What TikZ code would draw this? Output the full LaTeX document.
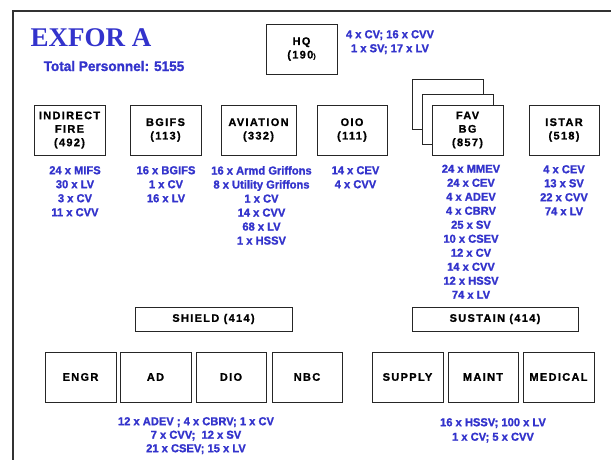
\documentclass[tikz,border=0pt]{standalone}
\usepackage{fontspec}
\setmainfont{Liberation Sans}
\newfontfamily\titlefont{Liberation Serif Bold}
\newfontfamily\kitfont{Liberation Sans Bold}[FakeBold=1.2, FakeStretch=0.97]
\newfontfamily\boxfont{Liberation Sans Bold}[LetterSpace=12, FakeBold=1]
\definecolor{unitblue}{RGB}{51,51,204}
\definecolor{framegray}{RGB}{50,50,50}
\tikzset{
  unitbox/.style={draw=black!85, line width=0.8pt, fill=white, inner sep=0pt,
    align=center, minimum width=71pt, minimum height=50pt,
    font=\boxfont\fontsize{11}{13.5}\selectfont},
  widebox/.style={unitbox, minimum height=24pt},
  kitlist/.style={text=unitblue, inner sep=0pt, anchor=north, align=center,
    font=\kitfont\fontsize{11.5}{14}\selectfont},
  kitlistb/.style={kitlist, font=\kitfont\fontsize{11.5}{13.5}\selectfont},
  kitlistc/.style={kitlist, font=\kitfont\fontsize{11.5}{14.5}\selectfont},
}
\begin{document}
\begin{tikzpicture}[x=1pt,y=-1pt]
\useasboundingbox[fill=white] (0,0) rectangle (611,460);
% frame
\draw[framegray, line width=2.5pt] (13,460) -- (13,11) -- (611,11);
% titles
\node[text=unitblue, inner sep=0pt, font=\titlefont\fontsize{27}{30}\selectfont] (title) at (91,38) {EXFOR A};
\node[text=unitblue, inner sep=0pt, font=\kitfont\fontsize{14}{16}\selectfont] (total) at (114,66) {Total Personnel: 5155};
% HQ
\node[unitbox] (hq) at (301.5,49) {HQ\\(190{\fontsize{7}{8}\selectfont)}};
\node[kitlist] (hqkit) at (390,30) {4 x CV; 16 x CVV\\1 x SV; 17 x LV};
% first row
\node[unitbox] (indf) at (69.5,130) {INDIRECT\\FIRE\\(492)};
\node[unitbox] (bgifs) at (165.5,130) {BGIFS\\(113)};
\node[unitbox, minimum width=75pt] (avn) at (258.5,130) {AVIATION\\(332)};
\node[unitbox, minimum width=70pt] (oio) at (352,130) {OIO\\(111)};
\node[unitbox] (favback) at (447.5,104) {};
\node[unitbox] (favmid) at (457.5,119) {};
\node[unitbox] (fav) at (467.5,130) {FAV\\BG\\(857)};
\node[unitbox, minimum width=70pt] (istar) at (564,130) {ISTAR\\(518)};
\node[kitlist] (indfkit) at (75,166) {24 x MIFS\\30 x LV\\3 x CV\\11 x CVV};
\node[kitlist] (bgifskit) at (166,166) {16 x BGIFS\\1 x CV\\16 x LV};
\node[kitlist] (avnkit) at (261.5,166) {16 x Armd Griffons\\8 x Utility Griffons\\1 x CV\\14 x CVV\\68 x LV\\1 x HSSV};
\node[kitlist] (oiokit) at (355.5,166) {14 x CEV\\4 x CVV};
\node[kitlist] (favkit) at (471,164.5) {24 x MMEV\\24 x CEV\\4 x ADEV\\4 x CBRV\\25 x SV\\10 x CSEV\\12 x CV\\14 x CVV\\12 x HSSV\\74 x LV};
\node[kitlist] (istarkit) at (564,165) {4 x CEV\\13 x SV\\22 x CVV\\74 x LV};
% shield / sustain
\node[widebox, minimum width=157pt] (shield) at (213.5,319) {SHIELD (414)};
\node[widebox, minimum width=166pt] (sustain) at (495,319) {SUSTAIN (414)};
\node[unitbox] (engr) at (80.5,377) {ENGR};
\node[unitbox] (ad) at (155.5,377) {AD};
\node[unitbox, minimum width=70pt] (dio) at (231,377) {DIO};
\node[unitbox, minimum width=70pt] (nbc) at (307,377) {NBC};
\node[unitbox] (supply) at (407.5,377) {SUPPLY};
\node[unitbox, minimum width=70pt] (maint) at (483,377) {MAINT};
\node[unitbox] (medical) at (558.5,377) {MEDICAL};
\node[kitlistb] (shieldkit) at (196,417) {12 x ADEV ; 4 x CBRV; 1 x CV\\7 x CVV; \ 12 x SV\\21 x CSEV; 15 x LV};
\node[kitlistc] (sustainkit) at (493,418) {16 x HSSV; 100 x LV\\1 x CV; 5 x CVV};
\end{tikzpicture}
\end{document}
